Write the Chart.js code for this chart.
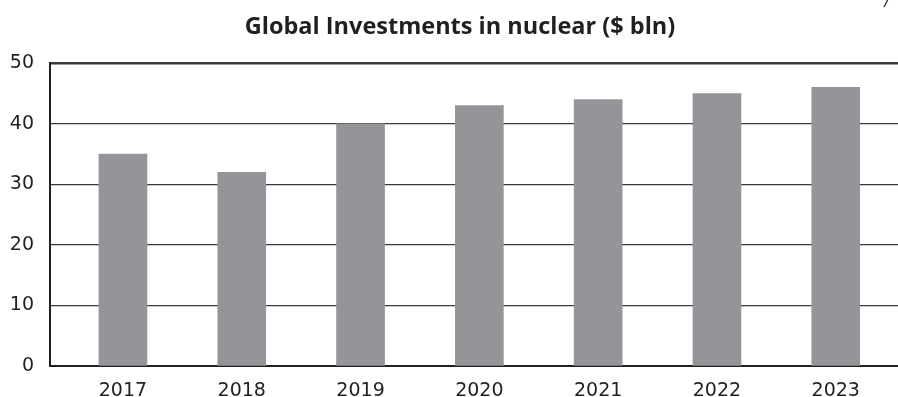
<!DOCTYPE html>
<html>
<head>
<meta charset="utf-8">
<script src="https://cdn.jsdelivr.net/npm/chart.js@4.4.1/dist/chart.umd.min.js"></script>
<style>
  html, body { margin: 0; padding: 0; background: #fff; }
  #wrap { position: relative; width: 898px; height: 397px; }
  #corner { position: absolute; right: 8px; top: -9px; font: italic 16px "DejaVu Sans", sans-serif; color: #231f20; }
</style>
</head>
<body>
<div id="wrap">
  <canvas id="nuclear-chart" width="898" height="397"></canvas>
  <span id="corner">/</span>
</div>
<script>
// investment per year, $ bln
const years = [2017, 2018, 2019, 2020, 2021, 2022, 2023];
const investments = [35, 32, 40, 43, 44, 45, 46];
const yTicks = [0, 10, 20, 30, 40, 50];

const ink = '#231f20';
const barGrey = '#939598';
const tickFont = { family: '"DejaVu Sans", sans-serif', size: 19 };

const chartCanvas = document.getElementById('nuclear-chart');

// nudge the title a little right of the canvas centre
const titleShift = {
    id: 'titleShift',
    afterLayout: function (chart) {
        if (chart.titleBlock) {
            chart.titleBlock.left += 22;
        }
    }
};

new Chart(chartCanvas, {
    type: 'bar',
    data: {
        datasets: [{
            label: 'Investments',
            data: years.map(function (yr, i) { return { x: yr, y: investments[i] }; }),
            backgroundColor: barGrey,
            borderWidth: 0,
            barThickness: 48
        }]
    },
    plugins: [titleShift],
    options: {
        responsive: false,
        animation: false,
        layout: { padding: 0 },
        plugins: {
            legend: { display: false },
            tooltip: { enabled: false },
            title: {
                display: true,
                text: 'Global Investments in nuclear ($ bln)',
                color: ink,
                font: { family: '"Open Sans", sans-serif', size: 23.5, weight: 'bold' },
                padding: { top: 13, bottom: 22 }
            }
        },
        scales: {
            x: {
                type: 'linear',
                offset: false,
                min: 2016.386,
                max: 2023.524,
                afterBuildTicks: function (scale) {
                    scale.ticks = years.map(function (v) { return { value: v }; });
                },
                afterFit: function (scale) { scale.height = 31; },
                grid: { display: false, drawTicks: false, offset: false },
                border: { display: true, color: ink, width: 2 },
                ticks: {
                    color: ink,
                    font: tickFont,
                    padding: 14,
                    maxRotation: 0,
                    callback: function (v) { return String(v); }
                }
            },
            y: {
                min: 0,
                max: 50,
                afterBuildTicks: function (scale) {
                    scale.ticks = yTicks.map(function (v) { return { value: v }; });
                },
                afterFit: function (scale) { scale.width = 50; },
                grid: {
                    color: '#3a3a3a',
                    lineWidth: function (ctx) { return ctx.tick && ctx.tick.value === 50 ? 2.5 : 1.2; },
                    drawTicks: false
                },
                border: { display: true, color: ink, width: 2 },
                ticks: { color: ink, font: tickFont, padding: 16 }
            }
        }
    }
});
</script>
</body>
</html>
